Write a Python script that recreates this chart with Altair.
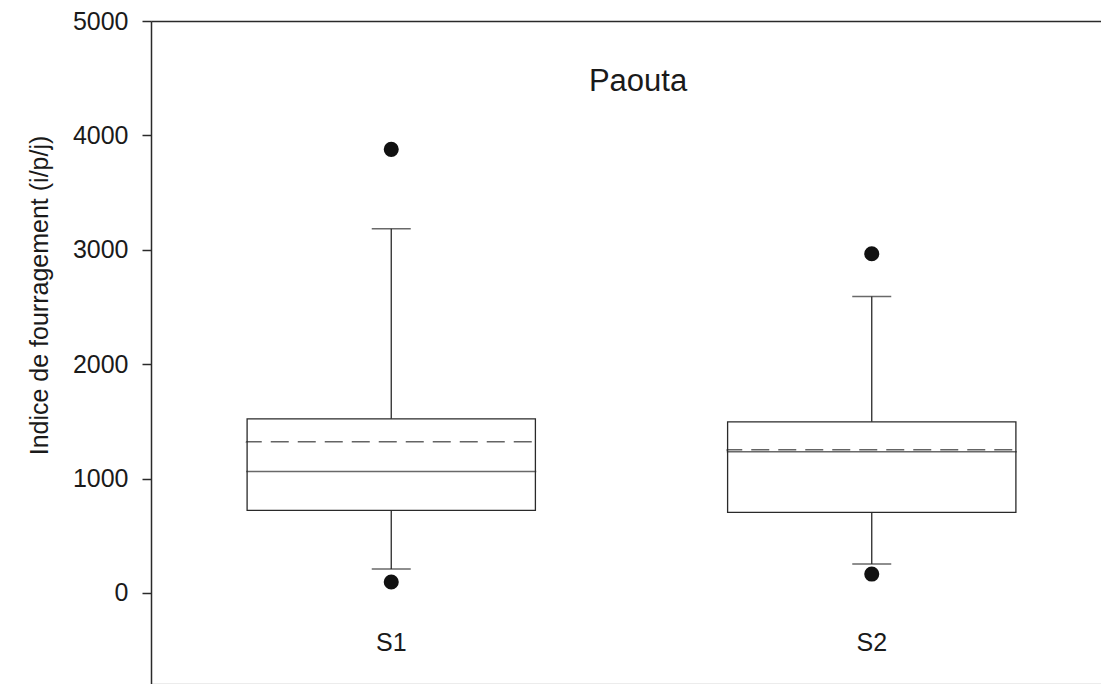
import altair as alt
import pandas as pd

# ---- data ----
groups = ["S1", "S2"]
q1 = [722, 704]
q3 = [1522, 1496]
median = [1061, 1235]
mean = [1322, 1252]
whisker_low = [209, 252]
whisker_high = [3183, 2591]
outlier_group = ["S1", "S1", "S2", "S2"]
outlier_value = [3878, 96, 2965, 165]
y_ticks = [0, 1000, 2000, 3000, 4000, 5000]

df = pd.DataFrame({
    "group": groups, "q1": q1, "q3": q3, "median": median, "mean": mean,
    "lo": whisker_low, "hi": whisker_high,
})
dfo = pd.DataFrame({"group": outlier_group, "value": outlier_value})

FONT = "Liberation Sans"
INK = "#2a2a2a"
W, H = 950, 663
BOX = 290

xscale = alt.Scale(domain=groups, range=[0, 961], paddingInner=0.4, paddingOuter=0.2)
yscale = alt.Scale(domain=[-796, 5000], nice=False, zero=False)
yaxis = alt.Axis(
    title="Indice de fourragement (i/p/j)", values=y_ticks, format="d", grid=False,
    tickSize=9, tickColor=INK, tickWidth=1.5, domainColor=INK, domainWidth=1.5,
    labelFontSize=25, labelFont=FONT, labelColor="#1a1a1a", labelPadding=14,
    titleFontSize=25, titleFont=FONT, titleFontWeight="normal", titleColor="#1a1a1a",
    titleX=-112, titleY=274, titleAlign="center", titleBaseline="middle", titleAngle=-90,
)


def Y(field):
    return alt.Y(field, type="quantitative", scale=yscale, axis=yaxis)


def Xn():
    return alt.X("group:N", scale=xscale, axis=None)


base = alt.Chart(df)

box = base.mark_bar(fill="white", stroke=INK, strokeWidth=1.3).encode(
    x=alt.X("group:N", scale=xscale, axis=alt.Axis(
        orient="bottom", title=None, ticks=False, domainColor="#b5b5b5", domainWidth=1.5,
        labelAngle=0, labelFontSize=25, labelFont=FONT, labelColor="#1a1a1a",
        labelPadding=-42, labelBaseline="middle", grid=False)),
    y=Y("q1"), y2="q3",
)
w_up = base.mark_rule(color=INK, strokeWidth=1.3).encode(x=Xn(), y=Y("q3"), y2="hi")
w_lo = base.mark_rule(color=INK, strokeWidth=1.3).encode(x=Xn(), y=Y("lo"), y2="q1")
cap_hi = base.mark_tick(size=39, thickness=1.5, color=INK).encode(x=Xn(), y=Y("hi"))
cap_lo = base.mark_tick(size=39, thickness=1.5, color=INK).encode(x=Xn(), y=Y("lo"))
med = base.mark_tick(size=BOX, thickness=1.5, color=INK).encode(x=Xn(), y=Y("median"))
# dashed mean line: outline of a zero-height rect, dash phase aligned so both edges coincide
dash_on, dash_off = 18, 9
period = dash_on + dash_off
dash_offset = ((dash_on - 2 * BOX) / 2) % (period / 2)
mn = base.mark_tick(size=BOX, thickness=0.01, filled=False, stroke="#222222", strokeWidth=1.5,
                    strokeDash=[dash_on, dash_off], strokeDashOffset=dash_offset).encode(
    x=Xn(), y=Y("mean"))

pts = alt.Chart(dfo).mark_circle(size=227, color="#111111", opacity=1).encode(
    x=alt.X("group:N", scale=xscale, axis=alt.Axis(
        orient="top", title=None, labels=False, ticks=False, domainColor=INK,
        domainWidth=1.5, grid=False)),
    y=Y("value"),
)

chart = alt.layer(box, w_up, w_lo, cap_hi, cap_lo, med, mn, pts).resolve_axis(
    x="independent"
).properties(
    width=W, height=H,
    title=alt.TitleParams("Paouta", fontSize=31, font=FONT, fontWeight="normal",
                          color="#1a1a1a", anchor="middle", offset=-113,
                          baseline="alphabetic", dx=12),
    autosize=alt.AutoSizeParams(type="none"),
    padding={"left": 143, "top": 13, "right": 0, "bottom": 0},
).configure_view(stroke=None)

chart.save("out.html", embed_options={"renderer": "svg", "actions": False})
